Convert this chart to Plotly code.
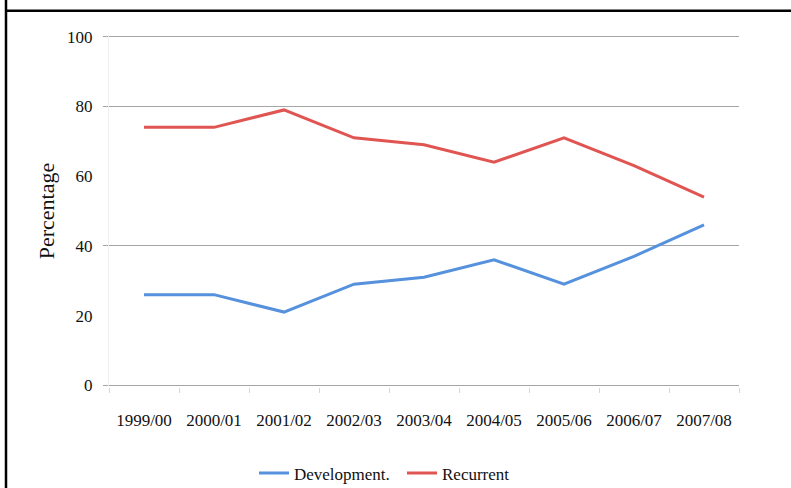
import plotly.graph_objects as go

years = ["1999/00", "2000/01", "2001/02", "2002/03", "2003/04",
         "2004/05", "2005/06", "2006/07", "2007/08"]
development = [26, 26, 21, 29, 31, 36, 29, 37, 46]
recurrent = [74, 74, 79, 71, 69, 64, 71, 63, 54]
y_ticks = [0, 20, 40, 60, 80, 100]
grid_vals = [0, 40, 80, 100]

FONT = "Liberation Serif, Times New Roman, serif"

fig = go.Figure()
fig.add_trace(go.Scatter(x=years, y=development, mode="lines", name="Development.",
                         line=dict(color="#5591DC", width=3)))
fig.add_trace(go.Scatter(x=years, y=recurrent, mode="lines", name="Recurrent",
                         line=dict(color="#E05552", width=3)))

W, H = 791, 488
PAD = 0.5                      # y-range padding (units) so 0/100 gridlines are not clipped
UNIT = 348 / 100               # px per y unit
L, R = 109, 52
T, B = 37 - PAD * UNIT, 103 - PAD * UNIT
pw, ph = W - L - R, H - T - B

def px(x):
    return (x - L) / pw

def py(y):
    return (H - B - y) / ph

fig.update_layout(
    width=W, height=H,
    margin=dict(l=L, r=R, t=T, b=B, autoexpand=False),
    paper_bgcolor="white", plot_bgcolor="white",
    font=dict(family=FONT, size=17, color="#111111"),
    showlegend=True,
    legend=dict(orientation="h", x=px(254), xanchor="left", y=py(473), yanchor="middle",
                font=dict(size=17), entrywidth=103, bgcolor="rgba(0,0,0,0)"),
    xaxis=dict(type="category", categoryorder="array", categoryarray=years,
               range=[-0.5, 8.5], tickson="boundaries", ticks="outside", ticklen=5,
               tickcolor="#d6d6d6", showgrid=False, showline=False, zeroline=False,
               ticklabelstandoff=21, tickfont=dict(size=17)),
    yaxis=dict(range=[-PAD, 100 + PAD], tickvals=y_ticks, showgrid=False, zeroline=False,
               showline=True, linecolor="#efefef", linewidth=1,
               ticks="outside", ticklen=5, tickcolor="rgba(0,0,0,0)",
               ticklabelstandoff=7, tickfont=dict(size=17),
               title=dict(text="Percentage", font=dict(size=22), standoff=6)),
    yaxis2=dict(range=[-PAD, 100 + PAD], overlaying="y", side="left", tickvals=grid_vals,
                showgrid=True, gridcolor="#a6a6a6", gridwidth=1, zeroline=False,
                showticklabels=False, ticks="outside", ticklen=5, tickcolor="#a6a6a6",
                showline=False),
    shapes=[
        dict(type="line", xref="paper", yref="paper", x0=px(6), x1=px(W + 5), y0=py(11), y1=py(11),
             line=dict(color="black", width=2.5)),
        dict(type="line", xref="paper", yref="paper", x0=px(6), x1=px(6), y0=py(-5), y1=py(H + 5),
             line=dict(color="black", width=2.5)),
    ],
)
# invisible trace so the grid-only overlay axis is drawn
fig.add_trace(go.Scatter(x=[years[0]], y=[None], yaxis="y2", showlegend=False, hoverinfo="skip"))

fig.write_html("out.html", config={"displayModeBar": False},
               post_script="document.body.style.margin='0';")
